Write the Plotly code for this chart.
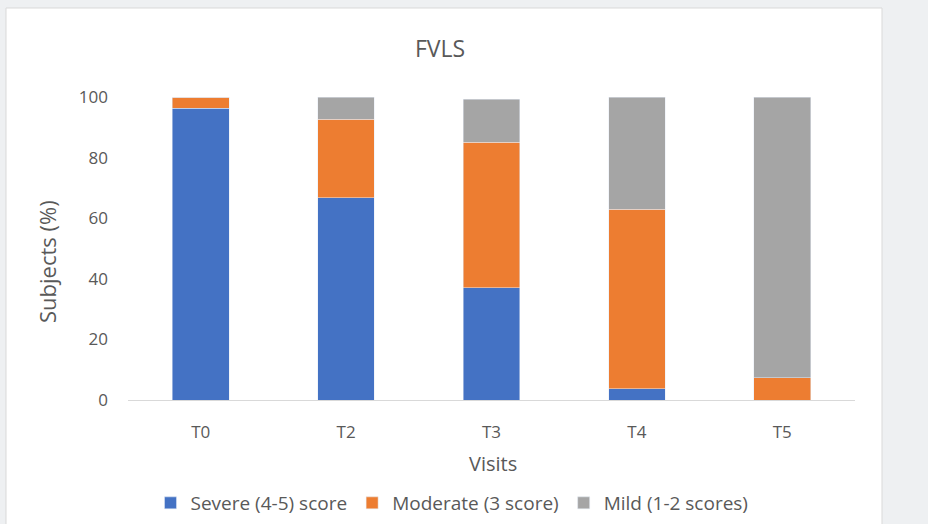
import plotly.graph_objects as go

visits = ["T0", "T2", "T3", "T4", "T5"]
severe = [96.3, 66.7, 37.0, 3.7, 0.0]
moderate = [3.7, 25.9, 48.1, 59.3, 7.4]
mild = [0.0, 7.4, 14.2, 37.0, 92.6]
y_ticks = [0, 20, 40, 60, 80, 100]

W, H = 928, 524
L, R, T, B = 128, 855, 97, 400

def px_x(p):
    return (p - L) / (R - L)

def px_y(p):
    return (B - p) / (B - T)

font = "Open Sans"
txt = "#595959"

fig = go.Figure()
fig.add_trace(go.Bar(name="Severe (4-5) score", x=visits, y=severe, marker_color="#4472C4", width=0.39))
fig.add_trace(go.Bar(name="Moderate (3 score)", x=visits, y=moderate, marker_color="#ED7D31", width=0.39))
fig.add_trace(go.Bar(name="Mild (1-2 scores)", x=visits, y=mild, marker_color="#A5A5A5", width=0.39))

fig.update_layout(
    width=W, height=H,
    barmode="stack",
    margin=dict(l=L, r=W - R, t=T, b=H - B, autoexpand=False),
    paper_bgcolor="#eef0f2",
    plot_bgcolor="rgba(0,0,0,0)",
    font=dict(family=font, color=txt, size=17),
    showlegend=True,
    legend=dict(orientation="h", x=px_x(452), xanchor="center", y=px_y(503), yanchor="middle",
                font=dict(size=19, color=txt), bgcolor="rgba(0,0,0,0)", itemwidth=30, traceorder="normal"),
    xaxis=dict(showgrid=False, showline=True, linecolor="#d9d9d9", linewidth=1, ticks="",
               tickfont=dict(size=17, color=txt), fixedrange=True, ticklabelstandoff=17),
    yaxis=dict(range=[0, 100], tickvals=y_ticks, showgrid=False, zeroline=False, showline=False,
               tickfont=dict(size=17, color=txt), ticklabelstandoff=19),
    shapes=[dict(type="rect", xref="paper", yref="paper", x0=px_x(6), x1=px_x(882), y0=px_y(530), y1=px_y(8),
                 fillcolor="white", line=dict(color="#d9d9d9", width=1), layer="below")],
    annotations=[
        dict(text="FVLS", x=px_x(440), y=px_y(48), xref="paper", yref="paper", showarrow=False,
             xanchor="center", yanchor="middle", font=dict(size=23, color=txt)),
        dict(text="Visits", x=px_x(493), y=px_y(463), xref="paper", yref="paper", showarrow=False,
             xanchor="center", yanchor="middle", font=dict(size=20, color=txt)),
        dict(text="Subjects (%)", x=px_x(47), y=px_y(262), xref="paper", yref="paper", showarrow=False,
             xanchor="center", yanchor="middle", textangle=-90, font=dict(size=22, color=txt)),
    ],
)

fig.write_html("out.html", config={"displayModeBar": False},
               post_script="document.body.style.margin='0';")
